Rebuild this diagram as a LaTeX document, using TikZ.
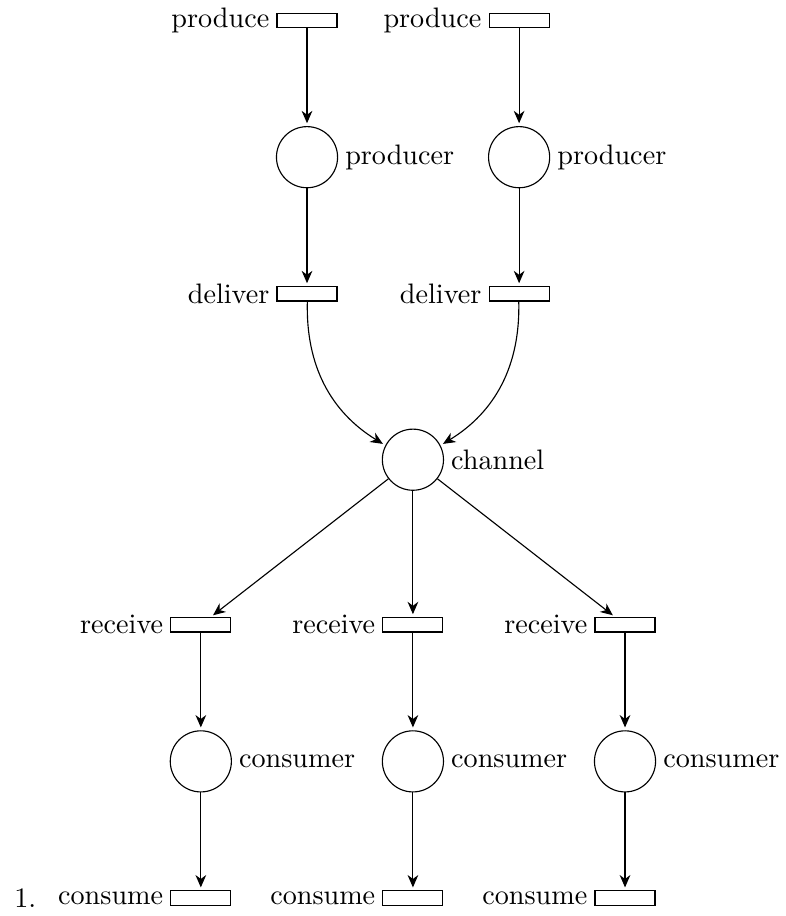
\documentclass[tikz,border=0pt]{standalone}
\usetikzlibrary{arrows.meta,positioning}

\tikzset{
  place/.style={circle, draw, minimum size=21.7pt, inner sep=0pt},
  transition/.style={rectangle, draw, minimum width=21.3pt, minimum height=5.1pt, inner sep=0pt},
  arc/.style={-{Stealth[length=4.4pt, width=3.8pt, inset=1.4pt]}, shorten >=1pt}
}

\begin{document}
\begin{tikzpicture}[node distance=48.5pt, on grid, label distance=-1pt]
    \useasboundingbox (-109pt,7.3pt) rectangle (170pt,-317.9pt);

    \node[transition, label=left:produce] (produceA) at (0,0) {};
    \node[transition, label=left:produce] (produceB) [right=75.3pt of produceA] {};
    \node[place, label=right:producer] (producerA) [below=of produceA] {};
    \node[place, label=right:producer] (producerB) [below=of produceB] {};
    \node[transition, label=left:deliver] (deliverA) [below=of producerA] {};
    \node[transition, label=left:deliver] (deliverB) [below=of producerB] {};

    \node[place, label=right:channel] (channel) [below right=58.9pt and 37.6pt of deliverA] {};

    \node[transition, label=left:receive] (receiveB) [below=58.6pt of channel] {};
    \node[transition, label=left:receive] (receiveA) [left=75.3pt of receiveB] {};
    \node[transition, label=left:receive] (receiveC) [right=75.3pt of receiveB] {};
    \node[place, label=right:consumer] (consumerA) [below=of receiveA] {};
    \node[place, label=right:consumer] (consumerB) [below=of receiveB] {};
    \node[place, label=right:consumer] (consumerC) [below=of receiveC] {};
    \node[transition, label=left:consume] (consumeA) [below=of consumerA] {};
    \node[transition, label=left:consume] (consumeB) [below=of consumerB] {};
    \node[transition, label=left:consume] (consumeC) [below=of consumerC] {};

    \node[anchor=base west, inner sep=0pt] (itemnum) at ([shift={(-66.4pt,-3.5pt)}]consumeA.center) {1.};

    \draw[arc] (produceA) -- (producerA);
    \draw[arc] (produceB) -- (producerB);
    \draw[arc] (producerA) -- (deliverA);
    \draw[arc] (producerB) -- (deliverB);
    \draw[arc] (deliverA) to[bend right] (channel);
    \draw[arc] (deliverB) to[bend left] (channel);
    \draw[arc] (channel) -- (receiveA);
    \draw[arc] (channel) -- (receiveB);
    \draw[arc] (channel) -- (receiveC);
    \draw[arc] (receiveA) -- (consumerA);
    \draw[arc] (receiveB) -- (consumerB);
    \draw[arc] (receiveC) -- (consumerC);
    \draw[arc] (consumerA) -- (consumeA);
    \draw[arc] (consumerB) -- (consumeB);
    \draw[arc] (consumerC) -- (consumeC);
\end{tikzpicture}
\end{document}
